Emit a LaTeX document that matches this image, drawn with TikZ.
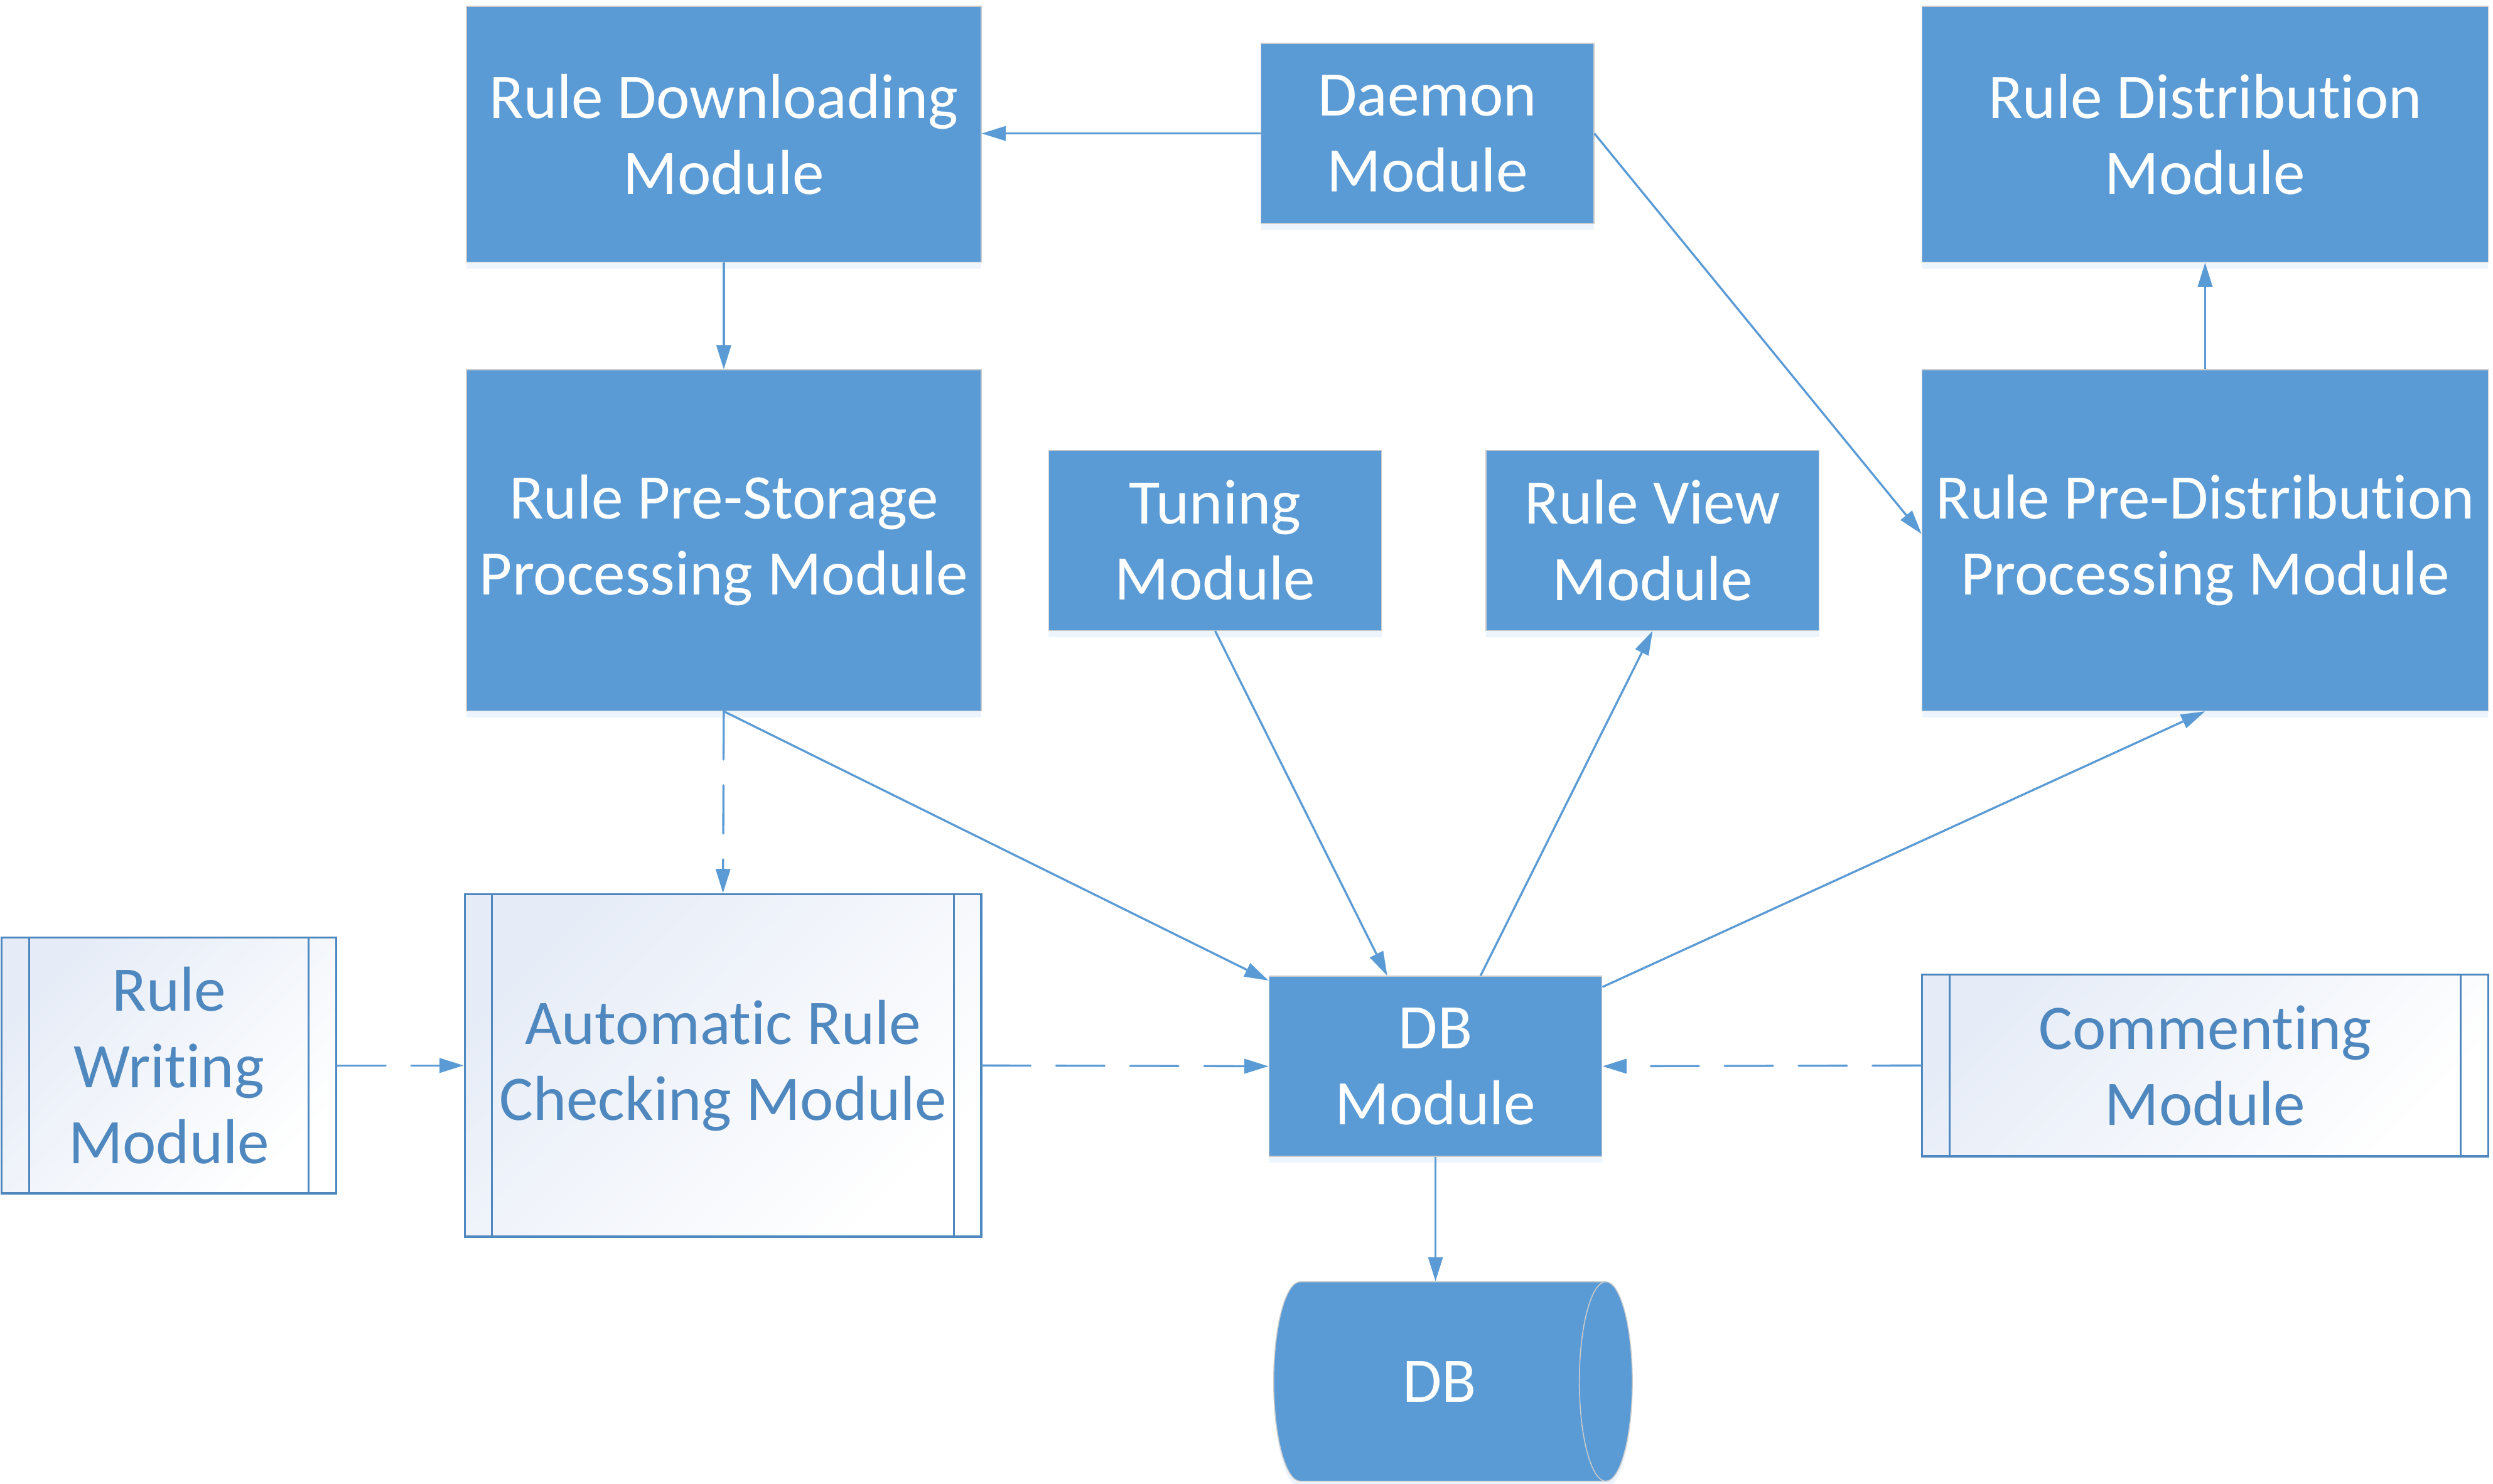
\documentclass[tikz,border=0pt]{standalone}
\usepackage{fontspec}
\setmainfont{Carlito}[Ligatures=NoCommon]
\usetikzlibrary{arrows.meta,shapes.geometric,shadows}

\definecolor{boxfill}{HTML}{5B9BD5}
\definecolor{linecol}{HTML}{5B9BD5}
\definecolor{predline}{HTML}{4F87BF}
\definecolor{predtop}{HTML}{E6ECF7}
\definecolor{shadowcol}{HTML}{D5E4F4}

\tikzset{
  modbox/.style={draw=black!20, line width=0.6pt, fill=boxfill, text=white,
    align=center, inner sep=0pt, font=\fontsize{39.5}{47.3}\selectfont,
    drop shadow={shadow xshift=0pt, shadow yshift=-4pt, fill=shadowcol, opacity=0.4}},
  predbox/.style={draw=predline, line width=1.4pt, top color=predtop, bottom color=white,
    shading angle=45, text=predline, align=center, inner sep=0pt,
    font=\fontsize{39.5}{47.3}\selectfont,
    path picture={\draw[predline, line width=1.2pt]
      ([xshift=17pt]path picture bounding box.north west) -- ([xshift=17pt]path picture bounding box.south west)
      ([xshift=-17pt]path picture bounding box.north east) -- ([xshift=-17pt]path picture bounding box.south east);}},
  conn/.style={draw=linecol, line width=1.3pt, -{Triangle[length=15pt,width=9pt]}},
  dconn/.style={conn, dash pattern=on 30pt off 16pt, line cap=round}
}

\begin{document}
\begin{tikzpicture}[x=1pt,y=-1pt]
\useasboundingbox (0,0) rectangle (1550,922.4);

% top row
\node[modbox, minimum width=320pt, minimum height=159pt] (down) at (450,83.5) {Rule Downloading\\Module};
\node[modbox, minimum width=207pt, minimum height=112pt] (daemon) at (887.5,83) {Daemon\\Module};
\node[modbox, minimum width=352pt, minimum height=159pt] (dist) at (1371,83.5) {Rule Distribution\\Module};

% middle row
\node[modbox, minimum width=320pt, minimum height=212pt] (prestore) at (450,336) {Rule Pre-Storage\\Processing Module};
\node[modbox, minimum width=207pt, minimum height=112pt] (tuning) at (755.5,336) {Tuning\\Module};
\node[modbox, minimum width=207pt, minimum height=112pt] (view) at (1027.5,336) {Rule View\\Module};
\node[modbox, minimum width=352pt, minimum height=212pt] (predist) at (1371,336) {Rule Pre-Distribution\\Processing Module};

% bottom row
\node[predbox, minimum width=208pt, minimum height=159pt] (writing) at (105,662.5) {Rule\\Writing\\Module};
\node[predbox, minimum width=321pt, minimum height=213pt] (check) at (449.5,662.5) {Automatic Rule\\Checking Module};
\node[modbox, minimum width=207pt, minimum height=112pt] (dbmod) at (892.5,663) {DB\\Module};
\node[predbox, minimum width=352pt, minimum height=113pt] (comment) at (1371,662.5) {Commenting\\Module};

% database
\node[cylinder, draw=black!20, line width=0.6pt, fill=boxfill, text=white, aspect=1.3,
  minimum width=124pt, minimum height=223pt, inner sep=0pt, font=\fontsize{39.5}{47.3}\selectfont,
  drop shadow={shadow xshift=0pt, shadow yshift=-4pt, fill=shadowcol, opacity=0.4}] (db) at (895,859) {DB};

% connectors
\draw[conn] (daemon.west) -- (daemon.west -| down.east);
\draw[conn] (down.south) -- (prestore.north);
\draw[conn] (daemon.east) -- ([yshift=4pt]predist.west);
\draw[conn] (predist.north) -- (dist.south);
\draw[conn] (prestore.south) -- ([yshift=-3pt]dbmod.north west);
\draw[dconn] (prestore.south) -- (check.north);
\draw[conn] (tuning.south) -- ([xshift=-30pt]dbmod.north);
\draw[conn] ([xshift=28pt]dbmod.north) -- (view.south);
\draw[conn] ([yshift=-7pt]dbmod.north east) -- (predist.south);
\draw[dconn] (writing.east) -- (check.west);
\draw[dconn] (check.east) -- (dbmod.west);
\draw[dconn] (comment.west) -- (dbmod.east);
\draw[conn] (dbmod.south) -- (dbmod.south |- db.north);
\end{tikzpicture}
\end{document}
